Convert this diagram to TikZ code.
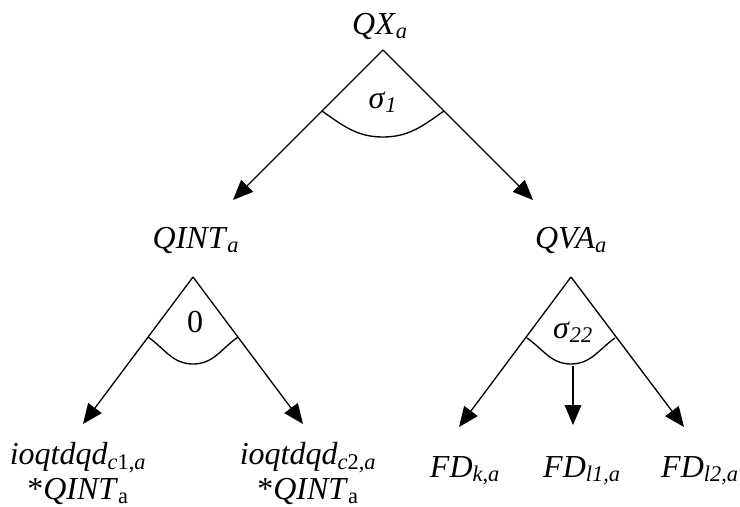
\documentclass[tikz,border=0pt]{standalone}
\usepackage{fontspec}
\setmainfont{Liberation Serif}
\usetikzlibrary{arrows.meta}

\newcommand{\lbl}[2]{\textit{#1}\textsubscript{#2}}

\tikzset{
  lab/.style={inner sep=0pt, anchor=base, align=center, font=\fontsize{24}{26}\selectfont},
  arr/.style={-{Triangle[length=15pt,width=12.5pt]}, line width=1pt},
  arcline/.style={line width=1pt}
}

\begin{document}
\begin{tikzpicture}[x=0.75pt,y=-0.75pt]
\useasboundingbox (0,0) rectangle (740,507);

% labels
\node[lab] (QX) at (380,34) {\lbl{QX}{\textit{a}}};
\node[lab] (QINT) at (196,248) {\lbl{QINT}{\textit{a}}};
\node[lab] (QVA) at (571,248) {\lbl{QVA}{\textit{a}}};
\node[lab] (C1) at (78,499) {\lbl{ioqtdqd}{\textit{c}1,\textit{a}}\\ *\lbl{QINT}{a}};
\node[lab] (C2) at (308,499) {\lbl{ioqtdqd}{\textit{c}2,\textit{a}}\\ *\lbl{QINT}{a}};
\node[lab] (FDk) at (465,477) {\lbl{FD}{\textit{k,a}}};
\node[lab] (FDl1) at (582,477) {\lbl{FD}{\textit{l1,a}}};
\node[lab] (FDl2) at (700,477) {\lbl{FD}{\textit{l2,a}}};

\node[lab] (S1) at (383,108) {\lbl{σ}{\textit{1}}};
\node[lab] (Z) at (195,332) {0};
\node[lab] (S22) at (573,338) {\lbl{σ}{\textit{22}}};

% apexes and arrow ends
\coordinate (A0) at (383,50);
\coordinate (T01) at (233,200);
\coordinate (T02) at (533,200);
\coordinate (A1) at (193,277);
\coordinate (T11) at (83,424);
\coordinate (T12) at (303,424);
\coordinate (A2) at (571,277);
\coordinate (T21) at (459,427);
\coordinate (T22) at (684,427);
\coordinate (B2) at (573,366);
\coordinate (T23) at (573,425);

\path [arr] (A0) edge (T01);
\path [arr] (A0) edge (T02);
\path [arr] (A1) edge (T11);
\path [arr] (A1) edge (T12);
\path [arr] (A2) edge (T21);
\path [arr] (A2) edge (T22);
\path [arr] (B2) edge (T23);

% angle arcs
\draw[arcline] (322,111) to[out=-35,in=180] (383,137) to[out=0,in=215] (444,111);
\draw[arcline] (148,337) to[out=-35,in=180] (193,364) to[out=0,in=215] (238,337);
\draw[arcline] (527,338) to[out=-35,in=180] (571,364) to[out=0,in=215] (615,338);
\end{tikzpicture}
\end{document}
